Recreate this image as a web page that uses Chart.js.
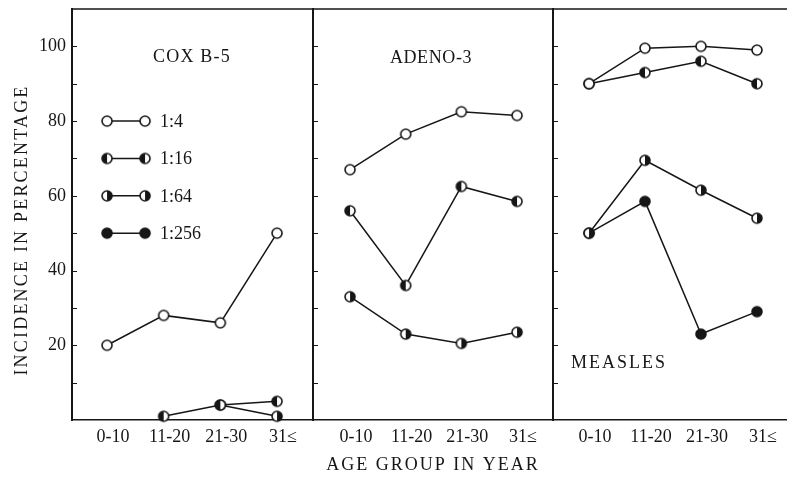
<!DOCTYPE html>
<html>
<head>
<meta charset="utf-8">
<script src="https://cdn.jsdelivr.net/npm/chart.js@4.4.0/dist/chart.umd.min.js"></script>
<style>
  body { margin: 0; background: #fff; }
  #wrap { position: relative; width: 787px; height: 478px; }
  canvas { position: absolute; top: 0; }
</style>
</head>
<body>
<div id="wrap">
  <canvas id="c1" width="313" height="478" style="left:0"></canvas>
  <canvas id="c2" width="241" height="478" style="left:312px"></canvas>
  <canvas id="c3" width="235" height="478" style="left:552px"></canvas>
</div>
<script>
const ageGroups = ["0-10", "11-20", "21-30", "31≤"];
const dilutions = ["1:4", "1:16", "1:64", "1:256"];

// COX B-5
const coxB5_4 = [20, 28, 26, 50];
const coxB5_16 = [null, 1, 4, 5];
const coxB5_64 = [null, null, 4, 1];

// ADENO-3
const adeno3_4 = [67, 76.5, 82.5, 81.5];
const adeno3_16 = [56, 36, 62.5, 58.5];
const adeno3_64 = [33, 23, 20.5, 23.5];

// MEASLES
const measles_4 = [90, 99.5, 100, 99];
const measles_16 = [90, 93, 96, 90];
const measles_64 = [50, 69.5, 61.5, 54];
const measles_256 = [50, 58.5, 23, 29];

const yTicks = [20, 40, 60, 80, 100];

const INK = "#161616";
const SERIF = "'Liberation Serif', 'DejaVu Serif', serif";

function marker(kind) {
    const c = document.createElement("canvas");
    c.width = 14; c.height = 14;
    const g = c.getContext("2d");
    const r = 5;
    g.fillStyle = "#fff";
    g.beginPath(); g.arc(7, 7, r, 0, Math.PI * 2); g.fill();
    g.fillStyle = INK;
    g.beginPath();
    if (kind === "full") g.arc(7, 7, r, 0, Math.PI * 2);
    if (kind === "left") g.arc(7, 7, r, Math.PI / 2, Math.PI * 1.5);
    if (kind === "right") g.arc(7, 7, r, -Math.PI / 2, Math.PI / 2);
    g.closePath();
    if (kind !== "open") g.fill();
    g.strokeStyle = INK; g.lineWidth = 1.6;
    g.beginPath(); g.arc(7, 7, r, 0, Math.PI * 2); g.stroke();
    return c;
}

const markers = { "1:4": marker("open"), "1:16": marker("left"), "1:64": marker("right"), "1:256": marker("full") };

function series(label, values) {
    return {
        label: label,
        data: values.map((v, i) => ({ x: i, y: v })),
        borderColor: INK,
        borderWidth: 1.5,
        pointStyle: markers[label],
        pointRadius: 6,
        tension: 0,
        spanGaps: false,
        clip: false
    };
}

function noPad(s) {
    s.paddingLeft = 0; s.paddingRight = 0;
    s.paddingTop = 0; s.paddingBottom = 0;
}

function scales(xmin, xmax, first) {
    return {
        x: {
            type: "linear", min: xmin, max: xmax,
            grid: { display: false, drawTicks: false },
            border: { display: true, color: INK, width: 1.5 },
            afterBuildTicks: s => { s.ticks = ageGroups.map((_, i) => ({ value: i })); },
            afterFit: s => { s.height = 58; noPad(s); },
            ticks: {
                callback: v => ageGroups[v],
                padding: 6, labelOffset: 6, autoSkip: false, maxRotation: 0,
                font: { family: SERIF, size: 18 }, color: INK
            }
        },
        y: {
            min: 0, max: 110,
            grid: { display: false, drawTicks: false },
            border: { display: true, color: INK, width: 2 },
            afterBuildTicks: s => { s.ticks = yTicks.map(v => ({ value: v })); },
            afterFit: s => { s.width = first ? 72 : 1; noPad(s); },
            ticks: {
                display: first, padding: 6,
                font: { family: SERIF, size: 18 }, color: INK
            }
        }
    };
}

// top line of each panel and small inward tick marks on its left side
const framePlugin = {
    id: "frame",
    afterDraw(chart) {
        const { ctx, chartArea } = chart;
        const y = chart.scales.y;
        ctx.save();
        ctx.strokeStyle = INK;
        ctx.lineWidth = 1.5;
        ctx.beginPath();
        ctx.moveTo(chartArea.left, chartArea.top);
        ctx.lineTo(chartArea.right, chartArea.top);
        ctx.stroke();
        ctx.lineWidth = 1;
        for (let v = 10; v <= 100; v += 10) {
            const py = Math.round(y.getPixelForValue(v)) + 0.5;
            ctx.beginPath();
            ctx.moveTo(chartArea.left, py);
            ctx.lineTo(chartArea.left + 5, py);
            ctx.stroke();
        }
        ctx.restore();
    }
};

const textPlugin = {
    id: "texts",
    afterDraw(chart, args, opts) {
        const ctx = chart.ctx;
        (opts.items || []).forEach(t => {
            ctx.save();
            ctx.fillStyle = INK;
            ctx.font = (t.size || 18) + "px " + SERIF;
            ctx.letterSpacing = (t.spacing || 0) + "px";
            ctx.textAlign = t.align || "center";
            ctx.textBaseline = "middle";
            ctx.translate(t.x, t.y);
            if (t.rotate) ctx.rotate(t.rotate);
            ctx.fillText(t.text, 0, 0);
            ctx.restore();
        });
    }
};

// legend drawn inside the COX B-5 panel
const legendPlugin = {
    id: "panelLegend",
    afterDraw(chart, args, opts) {
        if (!opts.show) return;
        const { ctx } = chart;
        const xs = chart.scales.x, ys = chart.scales.y;
        const x0 = xs.getPixelForValue(0), x1 = x0 + 38;
        [80, 70, 60, 50].forEach((v, i) => {
            const py = ys.getPixelForValue(v);
            const img = markers[dilutions[i]];
            ctx.save();
            ctx.strokeStyle = INK; ctx.lineWidth = 1.5;
            ctx.beginPath(); ctx.moveTo(x0, py); ctx.lineTo(x1, py); ctx.stroke();
            ctx.drawImage(img, x0 - 7, py - 7);
            ctx.drawImage(img, x1 - 7, py - 7);
            ctx.fillStyle = INK;
            ctx.font = "18px " + SERIF;
            ctx.textBaseline = "middle";
            ctx.fillText(dilutions[i], x1 + 15, py + 1);
            ctx.restore();
        });
    }
};

function makeChart(id, datasets, xmin, xmax, first, items, legend) {
    return new Chart(document.getElementById(id), {
        type: "line",
        data: { datasets: datasets },
        options: {
            responsive: false,
            animation: false,
            devicePixelRatio: 1,
            layout: { autoPadding: false, padding: { top: 9, right: 0, left: 0, bottom: 0 } },
            scales: scales(xmin, xmax, first),
            plugins: {
                legend: { display: false },
                tooltip: { enabled: false },
                texts: { items: items },
                panelLegend: { show: legend }
            }
        },
        plugins: [framePlugin, textPlugin, legendPlugin]
    });
}

makeChart("c1", [
    series("1:4", coxB5_4),
    series("1:16", coxB5_16),
    series("1:64", coxB5_64)
], -0.618, 3.635, true, [
    { text: "COX B-5", x: 192, y: 57, spacing: 1.2 },
    { text: "INCIDENCE IN PERCENTAGE", x: 22, y: 230, rotate: -Math.PI / 2, spacing: 2.2 }
], true);

makeChart("c2", [
    series("1:4", adeno3_4),
    series("1:16", adeno3_16),
    series("1:64", adeno3_64)
], -0.665, 3.646, false, [
    { text: "ADENO-3", x: 119, y: 58, spacing: 0.6 },
    { text: "AGE GROUP IN YEAR", x: 121, y: 465, spacing: 2 }
], false);

makeChart("c3", [
    series("1:4", measles_4),
    series("1:16", measles_16),
    series("1:64", measles_64),
    series("1:256", measles_256)
], -0.643, 3.536, false, [
    { text: "MEASLES", x: 19, y: 363, align: "left", spacing: 2 }
], false);
</script>
</body>
</html>
